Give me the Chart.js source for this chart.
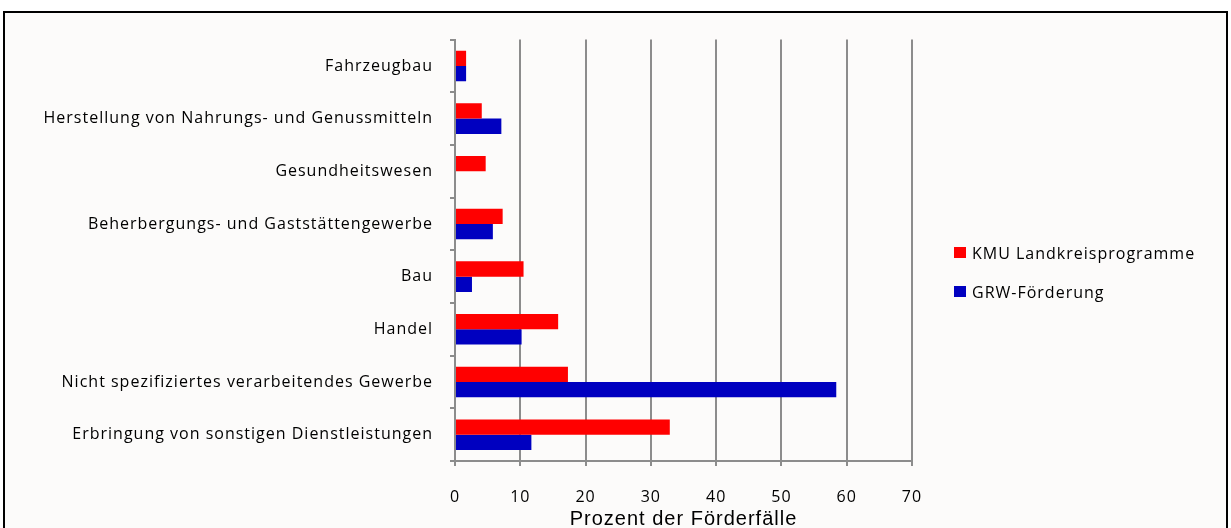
<!DOCTYPE html>
<html lang="de">
<head>
    <meta charset="UTF-8">
    <title>Förderfälle nach Branchen</title>
    <script src="https://cdn.jsdelivr.net/npm/chart.js"></script>
    <style>
        body, html {
            margin: 0;
            padding: 0;
            background-color: #ffffff;
            width: 1231px;
            height: 528px;
            overflow: hidden;
        }
        .box {
            position: absolute;
            left: 3px;
            top: 11px;
            width: 1221px;
            height: 530px;
            border: 2px solid #000000;
            background-color: #fcfbfa;
        }
        .chart-container {
            position: absolute;
            left: 0;
            top: 0;
            width: 1221px;
            height: 515px;
        }
        .legend {
            position: absolute;
            left: 949px;
            top: 220px;
            font-family: 'Open Sans', sans-serif;
            font-size: 16px;
            letter-spacing: 1px;
            color: #000000;
        }
        .legend-item {
            height: 39px;
            display: flex;
            align-items: center;
        }
        .legend-box {
            width: 12px;
            height: 11px;
            margin-right: 6px;
        }
    </style>
</head>
<body>
    <div class="box">
        <div class="chart-container">
            <canvas id="branchenChart"></canvas>
        </div>
        <div class="legend" id="legend"></div>
    </div>

    <script>
        // Branchen (von oben nach unten)
        const branchen = [
            'Fahrzeugbau',
            'Herstellung von Nahrungs- und Genussmitteln',
            'Gesundheitswesen',
            'Beherbergungs- und Gaststättengewerbe',
            'Bau',
            'Handel',
            'Nicht spezifiziertes verarbeitendes Gewerbe',
            'Erbringung von sonstigen Dienstleistungen'
        ];

        // Anteile in Prozent der Förderfälle
        const kmuLandkreis = [1.7, 4.1, 4.7, 7.3, 10.5, 15.8, 17.3, 32.9];
        const grwFoerderung = [1.7, 7.1, 0, 5.8, 2.6, 10.2, 58.4, 11.7];

        const xTicks = [0, 10, 20, 30, 40, 50, 60, 70];

        const serien = [
            { label: 'KMU Landkreisprogramme', data: kmuLandkreis, color: '#ff0000' },
            { label: 'GRW-Förderung', data: grwFoerderung, color: '#0000c0' }
        ];

        const labelFont = { family: 'Open Sans', size: 16 };

        // etwas Sperrung wie im Original
        const spacing = {
            id: 'spacing',
            beforeLayout: chart => { chart.ctx.letterSpacing = '1px'; },
            beforeDraw: chart => { chart.ctx.letterSpacing = '1px'; }
        };

        new Chart(document.getElementById('branchenChart').getContext('2d'), {
            type: 'bar',
            data: {
                labels: branchen,
                datasets: serien.map(s => ({
                    label: s.label,
                    data: s.data,
                    backgroundColor: s.color,
                    borderWidth: 0,
                    categoryPercentage: 0.58,
                    barPercentage: 1.0
                }))
            },
            options: {
                indexAxis: 'y',
                responsive: true,
                maintainAspectRatio: false,
                animation: false,
                layout: {
                    padding: { top: 18, right: 314, bottom: 0, left: 0 }
                },
                plugins: {
                    legend: { display: false },
                    tooltip: { enabled: false }
                },
                scales: {
                    x: {
                        min: 0,
                        max: 70,
                        afterBuildTicks: scale => {
                            scale.ticks = xTicks.map(v => ({ value: v }));
                        },
                        afterFit: scale => {
                            scale.height = 67;
                        },
                        grid: {
                            color: '#8c8c8c',
                            lineWidth: 2,
                            tickLength: 5,
                            drawTicks: true
                        },
                        border: { color: '#8c8c8c', width: 2 },
                        ticks: {
                            color: '#000000',
                            font: labelFont,
                            padding: 22,
                            maxRotation: 0
                        },
                        title: {
                            display: true,
                            text: 'Prozent der Förderfälle',
                            color: '#000000',
                            font: { family: 'Liberation Sans', size: 20 },
                            padding: { top: 0, bottom: -3 }
                        }
                    },
                    y: {
                        afterFit: scale => {
                            scale.width = 450;
                        },
                        grid: {
                            offset: true,
                            drawOnChartArea: false,
                            color: '#8c8c8c',
                            lineWidth: 2,
                            tickLength: 5
                        },
                        border: { color: '#8c8c8c', width: 2 },
                        ticks: {
                            color: '#000000',
                            font: labelFont,
                            padding: 17,
                            autoSkip: false
                        }
                    }
                }
            },
            plugins: [spacing]
        });

        // Legende
        const legend = document.getElementById('legend');
        serien.forEach(s => {
            const item = document.createElement('div');
            item.className = 'legend-item';
            item.innerHTML = '<div class="legend-box" style="background-color:' + s.color + '"></div>' + s.label;
            legend.appendChild(item);
        });
    </script>
</body>
</html>
